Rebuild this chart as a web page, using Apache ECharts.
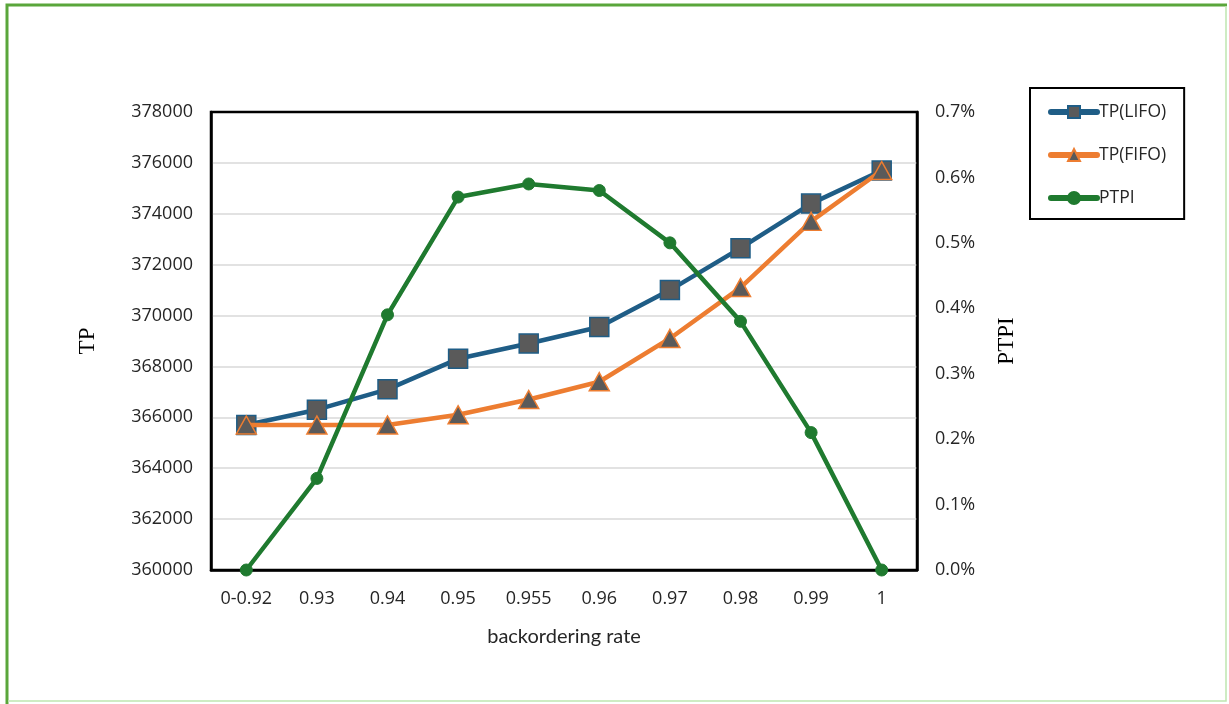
<!DOCTYPE html>
<html>
<head>
<meta charset="utf-8">
<script src="https://cdn.jsdelivr.net/npm/echarts@6/dist/echarts.min.js"></script>
<style>
  html, body { margin: 0; padding: 0; background: #ffffff; }
  #chart { width: 1229px; height: 704px; }
</style>
</head>
<body>
<div id="chart"></div>
<script>
// Backordering rates on the category axis
const rates = ['0-0.92', '0.93', '0.94', '0.95', '0.955', '0.96', '0.97', '0.98', '0.99', '1'];
// Total profit under LIFO and FIFO issuing
const tpLifo = [365700, 366300, 367100, 368300, 368900, 369550, 371000, 372650, 374400, 375700];
const tpFifo = [365700, 365700, 365700, 366100, 366700, 367400, 369100, 371100, 373700, 375700];
// Percentage total profit improvement (in %)
const ptpi = [0.00, 0.14, 0.39, 0.57, 0.59, 0.58, 0.50, 0.38, 0.21, 0.00];

const blue = '#1f5d86';
const orange = '#ed7d31';
const green = '#1f7a2f';
const markerFill = '#5a5a5a';
const labelFont = { fontFamily: 'Open Sans, Liberation Sans, sans-serif', fontSize: 18, color: '#262626' };
const serifFont = 'Liberation Serif, Times New Roman, serif';

const chart = echarts.init(document.getElementById('chart'), null, { renderer: 'canvas' });

chart.setOption({
  animation: false,
  backgroundColor: '#ffffff',
  graphic: [
    { type: 'polyline', shape: { points: [[7, 704], [7, 5], [1227, 5]] },
      style: { stroke: '#5aa63b', lineWidth: 3, fill: null } },
    { type: 'polyline', shape: { points: [[1226, 6], [1226, 701], [8, 701]] },
      style: { stroke: '#bfe6b0', lineWidth: 1.5, fill: null } }
  ],
  grid: {
    left: 211, right: 312, top: 112, bottom: 134,
    show: true, borderColor: '#000000', borderWidth: 2.5, backgroundColor: 'transparent'
  },
  legend: {
    orient: 'vertical',
    left: 1030, top: 88,
    itemWidth: 46, itemHeight: 15, itemGap: 25,
    padding: [15, 18, 12, 18],
    borderColor: '#000000', borderWidth: 2,
    textStyle: { fontFamily: 'Open Sans, Liberation Sans, sans-serif', fontSize: 17.5, color: '#262626', padding: [0, 0, 0, -3] },
    data: [
      { name: 'TP(LIFO)', lineStyle: { width: 6, cap: 'round' } },
      { name: 'TP(FIFO)', lineStyle: { width: 6, cap: 'round' } },
      { name: 'PTPI', lineStyle: { width: 6, cap: 'round' } }
    ]
  },
  xAxis: {
    type: 'category',
    data: rates,
    boundaryGap: true,
    name: 'backordering rate',
    nameLocation: 'middle',
    nameGap: 57,
    nameTextStyle: { fontFamily: 'Lato, Open Sans, sans-serif', fontSize: 20, color: '#262626' },
    axisLine: { lineStyle: { color: '#000000', width: 2.5 } },
    axisTick: { show: false },
    axisLabel: Object.assign({}, labelFont, { margin: 20 })
  },
  yAxis: [
    {
      type: 'value',
      min: 360000, max: 378000, interval: 2000,
      name: 'TP',
      nameLocation: 'middle',
      nameGap: 112,
      nameRotate: 90,
      nameTextStyle: { fontFamily: serifFont, fontSize: 23, color: '#000000' },
      axisLine: { show: true, lineStyle: { color: '#000000', width: 2.5 } },
      axisTick: { show: false },
      axisLabel: Object.assign({}, labelFont, {
        margin: 18,
        formatter: v => String(v)
      }),
      splitLine: { showMinLine: false, showMaxLine: false, lineStyle: { color: '#d9d9d9', width: 1.5 } }
    },
    {
      type: 'value',
      min: 0, max: 0.7, interval: 0.1,
      name: 'PTPI',
      nameLocation: 'middle',
      nameGap: 78,
      nameRotate: 90,
      nameTextStyle: { fontFamily: serifFont, fontSize: 23, color: '#000000' },
      axisLine: { show: true, lineStyle: { color: '#000000', width: 2.5 } },
      axisTick: { show: false },
      axisLabel: Object.assign({}, labelFont, {
        margin: 18,
        formatter: v => v.toFixed(1) + '%'
      }),
      splitLine: { show: false }
    }
  ],
  series: [
    {
      name: 'TP(LIFO)', type: 'line', yAxisIndex: 0,
      data: tpLifo,
      symbol: 'rect', symbolSize: 19,
      lineStyle: { color: blue, width: 4.5 },
      itemStyle: { color: markerFill, borderColor: blue, borderWidth: 1.5 },
      z: 3
    },
    {
      name: 'TP(FIFO)', type: 'line', yAxisIndex: 0,
      data: tpFifo,
      symbol: 'triangle', symbolSize: [20, 18],
      lineStyle: { color: orange, width: 4.5 },
      itemStyle: { color: markerFill, borderColor: orange, borderWidth: 1.5 },
      z: 4
    },
    {
      name: 'PTPI', type: 'line', yAxisIndex: 1,
      data: ptpi,
      symbol: 'circle', symbolSize: 12,
      lineStyle: { color: green, width: 4.5 },
      itemStyle: { color: green, borderColor: green, borderWidth: 1 },
      z: 5
    }
  ]
});
</script>
</body>
</html>
